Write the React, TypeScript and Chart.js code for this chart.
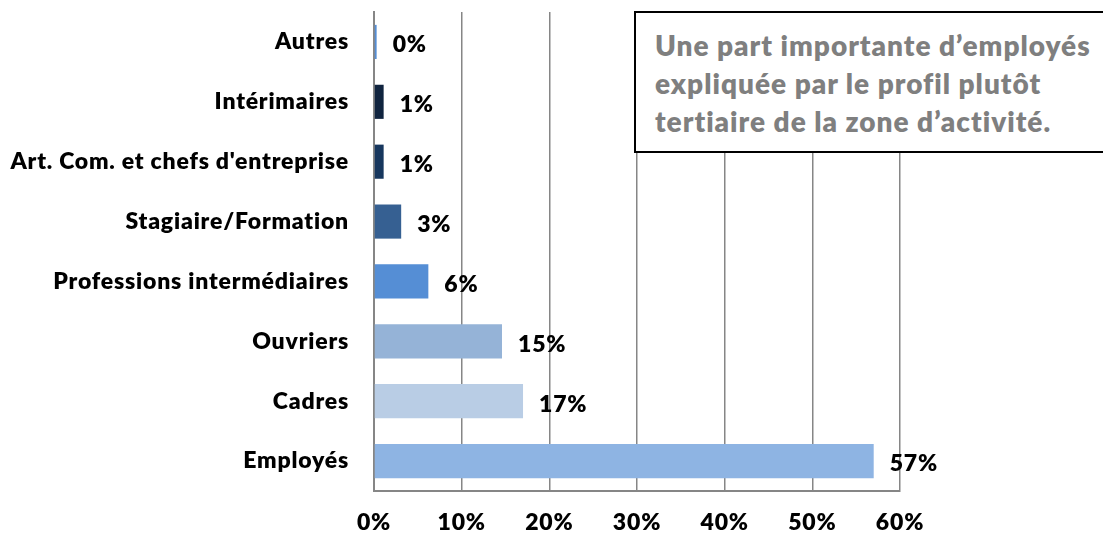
import React, { useEffect, useRef } from "react";
import { Chart, registerables } from "chart.js";

Chart.register(...registerables);

const categories = [
  "Autres",
  "Intérimaires",
  "Art. Com. et chefs d'entreprise",
  "Stagiaire/Formation",
  "Professions intermédiaires",
  "Ouvriers",
  "Cadres",
  "Employés",
];
const values = [0.3, 1.1, 1.1, 3.1, 6.2, 14.6, 17.0, 57.0];
const valueLabels = ["0%", "1%", "1%", "3%", "6%", "15%", "17%", "57%"];
const barColors = [
  "#558ED5",
  "#10243F",
  "#17375E",
  "#366092",
  "#558ED5",
  "#95B3D7",
  "#B9CDE5",
  "#8EB4E3",
];
const xTicks = [0, 10, 20, 30, 40, 50, 60];
const noteText = [
  "Une part importante d\u2019employés",
  "expliquée par le profil plutôt",
  "tertiaire de la zone d\u2019activité.",
];

const FONT = "Lato, 'DejaVu Sans', sans-serif";
const WEIGHT = 800;

const spacingPlugin = {
  id: "spacing",
  beforeDraw(chart: any) {
    (chart.ctx as any).letterSpacing = "0.8px";
  },
};

const labelPlugin = {
  id: "valueLabels",
  afterDatasetsDraw(chart: any) {
    const ctx = chart.ctx;
    const meta = chart.getDatasetMeta(0);
    ctx.save();
    ctx.font = `${WEIGHT} 23px ${FONT}`;
    ctx.fillStyle = "#000000";
    ctx.textAlign = "left";
    ctx.textBaseline = "middle";
    meta.data.forEach((el: any, i: number) => {
      ctx.fillText(valueLabels[i], el.x + 16, el.y + 3);
    });
    ctx.restore();
  },
};

export default function App() {
  const canvasRef = useRef<HTMLCanvasElement | null>(null);

  useEffect(() => {
    document.body.style.margin = "0";
    const canvas = canvasRef.current;
    if (!canvas) return;
    const chart = new Chart(canvas, {
      type: "bar",
      data: {
        labels: categories,
        datasets: [
          {
            data: values,
            backgroundColor: barColors,
            borderWidth: 0,
            barPercentage: 0.57,
            categoryPercentage: 1,
          },
        ],
      },
      options: {
        indexAxis: "y",
        animation: false,
        responsive: false,
        maintainAspectRatio: false,
        layout: { padding: { top: 12, right: 203, left: 0, bottom: 0 } },
        plugins: {
          legend: { display: false },
          tooltip: { enabled: false },
        },
        scales: {
          x: {
            min: 0,
            max: 60,
            afterBuildTicks(scale: any) {
              scale.ticks = xTicks.map((v) => ({ value: v }));
            },
            afterFit(scale: any) {
              scale.height = 535 - 491;
              scale.paddingLeft = 0;
              scale.paddingRight = 0;
            },
            ticks: {
              color: "#000000",
              font: { family: FONT, size: 23, weight: WEIGHT as any },
              padding: 18,
              callback: (v: any) => `${v}%`,
              maxRotation: 0,
            },
            grid: {
              color: "#868686",
              lineWidth: 1.5,
              drawTicks: false,
            },
            border: { color: "#868686", width: 2 },
          },
          y: {
            afterFit(scale: any) {
              scale.width = 374;
              scale.paddingTop = 0;
              scale.paddingBottom = 0;
            },
            ticks: {
              color: "#000000",
              font: { family: FONT, size: 23, weight: WEIGHT as any },
              padding: 25,
            },
            grid: { display: false, drawTicks: false },
            border: { color: "#868686", width: 2 },
          },
        },
      },
      plugins: [spacingPlugin, labelPlugin],
    });
    return () => chart.destroy();
  }, []);

  return (
    <div
      style={{
        position: "relative",
        width: 1103,
        height: 535,
        overflow: "hidden",
        background: "#ffffff",
      }}
    >
      <canvas ref={canvasRef} width={1103} height={535} style={{ display: "block" }} />
      <div
        style={{
          position: "absolute",
          left: 634,
          top: 11,
          width: 520,
          height: 142,
          border: "2px solid #000000",
          background: "#ffffff",
          boxSizing: "border-box",
          padding: "13px 0 0 19px",
          fontFamily: FONT,
          fontWeight: WEIGHT,
          fontSize: 28,
          letterSpacing: "1px",
          lineHeight: "38px",
          color: "#7F7F7F",
          whiteSpace: "nowrap",
        }}
      >
        {noteText.map((t, i) => (
          <div key={i}>{t}</div>
        ))}
      </div>
    </div>
  );
}
